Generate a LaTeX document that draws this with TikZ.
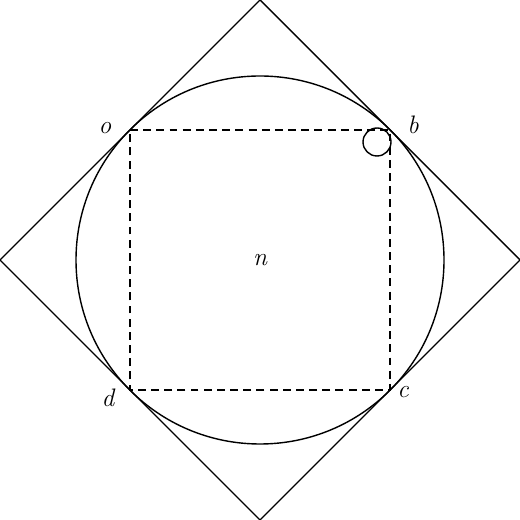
\documentclass[tikz,border=0pt]{standalone}
\usepackage{tikz}
\usetikzlibrary{positioning}

\begin{document}
\begin{tikzpicture}[x=0.02cm,y=0.02cm,line width=0.8pt,
  lbl/.style={font=\Large\itshape,inner sep=0pt},
  pt/.style={inner sep=0pt,minimum size=0pt}]
\useasboundingbox (0,0) rectangle (520,520);
\coordinate (T) at (260,520);
\coordinate (R) at (520,260);
\coordinate (B) at (260,0);
\coordinate (L) at (0,260);
\draw (T) -- (R) -- (B) -- (L) -- cycle;
\node[pt] (n) at (260,260) {};
\draw (n) circle (184);
\coordinate (o) at (130,390);
\coordinate (b) at (390,390);
\coordinate (c) at (390,130);
\coordinate (d) at (130,130);
\draw[dash pattern=on 4.5pt off 3pt] (o) -- (b) -- (c) -- (d) -- (o);
\draw (377,378) circle (14);
\node[lbl] at (105,392) {o};
\node[lbl] at (413,395) {b};
\node[lbl] at (403,128) {c};
\node[lbl] at (108,122) {d};
\node[lbl] at (n) {n};
\end{tikzpicture}
\end{document}
